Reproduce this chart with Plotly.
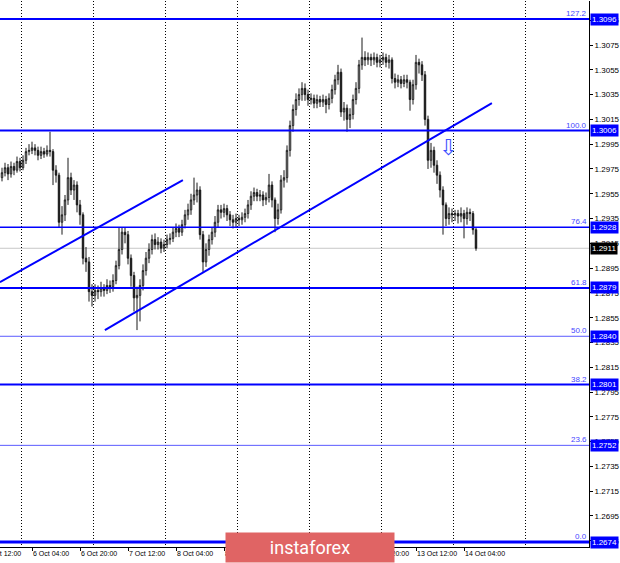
import plotly.graph_objects as go

# ---------------- data ----------------
# hourly bars; index 0 = 6 Oct 04:00 (weekend gap removed, like the terminal)
bar_index = list(range(-10, 149))

closes = [
    1.2972, 1.2976, 1.2971, 1.2977, 1.2974, 1.2981, 1.2976, 1.2982, 1.2989, 1.2990,
    1.2992, 1.2990, 1.2986, 1.2989, 1.2987, 1.2990, 1.2989, 1.2974, 1.2970, 1.2932,
    1.2938, 1.2950, 1.2968, 1.2958, 1.2962, 1.2946, 1.2938, 1.2903, 1.2900, 1.2876,
    1.2873, 1.2877, 1.2876, 1.2879, 1.2877, 1.2881, 1.2880, 1.2885, 1.2897, 1.2910,
    1.2924, 1.2922, 1.2903, 1.2889, 1.2871, 1.2873, 1.2881, 1.2893, 1.2903, 1.2910,
    1.2918, 1.2914, 1.2916, 1.2911, 1.2914, 1.2918, 1.2919, 1.2924, 1.2927, 1.2924,
    1.2930, 1.2938, 1.2942, 1.2950, 1.2954, 1.2958, 1.2922, 1.2900, 1.2910, 1.2918,
    1.2924, 1.2932, 1.2942, 1.2940, 1.2943, 1.2938, 1.2934, 1.2932, 1.2935, 1.2934,
    1.2936, 1.2939, 1.2946, 1.2953, 1.2956, 1.2953, 1.2954, 1.2950, 1.2952, 1.2962,
    1.2950, 1.2935, 1.2942, 1.2966, 1.2968, 1.2990, 1.3010, 1.3023, 1.3031, 1.3035,
    1.3040, 1.3035, 1.3031, 1.3032, 1.3028, 1.3031, 1.3029, 1.3031, 1.3027, 1.3032,
    1.3039, 1.3047, 1.3053, 1.3021, 1.3024, 1.3015, 1.3019, 1.3031, 1.3040, 1.3059,
    1.3065, 1.3063, 1.3065, 1.3063, 1.3065, 1.3061, 1.3063, 1.3065, 1.3061, 1.3063,
    1.3048, 1.3045, 1.3047, 1.3044, 1.3047, 1.3045, 1.3031, 1.3043, 1.3061, 1.3059,
    1.3051, 1.3015, 1.2982, 1.2990, 1.2978, 1.2970, 1.2958, 1.2946, 1.2935, 1.2939,
    1.2938, 1.2939, 1.2937, 1.2939, 1.2935, 1.2940, 1.2939, 1.2926, 1.2911,
]

highs = [
    1.2976, 1.2980, 1.2979, 1.2981, 1.2980, 1.2985, 1.2984, 1.2986, 1.2992, 1.2995,
    1.2997, 1.2995, 1.2993, 1.2993, 1.2992, 1.2994, 1.3005, 1.2991, 1.2978, 1.2972,
    1.2945, 1.2954, 1.2984, 1.2972, 1.2966, 1.2965, 1.2950, 1.2940, 1.2912, 1.2904,
    1.2882, 1.2882, 1.2881, 1.2884, 1.2882, 1.2886, 1.2885, 1.2890, 1.2901, 1.2928,
    1.2928, 1.2928, 1.2925, 1.2906, 1.2892, 1.2880, 1.2886, 1.2898, 1.2908, 1.2915,
    1.2922, 1.2923, 1.2920, 1.2919, 1.2918, 1.2922, 1.2923, 1.2928, 1.2931, 1.2930,
    1.2934, 1.2942, 1.2947, 1.2955, 1.2968, 1.2964, 1.2961, 1.2925, 1.2915, 1.2922,
    1.2928, 1.2937, 1.2946, 1.2946, 1.2947, 1.2946, 1.2941, 1.2938, 1.2939, 1.2938,
    1.2940, 1.2943, 1.2950, 1.2957, 1.2960, 1.2959, 1.2958, 1.2957, 1.2956, 1.2971,
    1.2965, 1.2952, 1.2947, 1.2970, 1.2974, 1.2994, 1.3014, 1.3027, 1.3036, 1.3040,
    1.3045, 1.3044, 1.3039, 1.3036, 1.3035, 1.3035, 1.3034, 1.3035, 1.3034, 1.3036,
    1.3043, 1.3051, 1.3059, 1.3056, 1.3029, 1.3027, 1.3024, 1.3035, 1.3045, 1.3063,
    1.3081, 1.3070, 1.3069, 1.3068, 1.3069, 1.3068, 1.3067, 1.3069, 1.3068, 1.3067,
    1.3065, 1.3052, 1.3051, 1.3050, 1.3051, 1.3051, 1.3047, 1.3047, 1.3067, 1.3064,
    1.3062, 1.3054, 1.3018, 1.2996, 1.2993, 1.2982, 1.2973, 1.2961, 1.2948, 1.2944,
    1.2943, 1.2942, 1.2942, 1.2944, 1.2942, 1.2944, 1.2943, 1.2941, 1.2928,
]

lows = [
    1.2965, 1.2969, 1.2966, 1.2968, 1.2970, 1.2972, 1.2973, 1.2974, 1.2979, 1.2986,
    1.2987, 1.2986, 1.2982, 1.2983, 1.2984, 1.2985, 1.2985, 1.2962, 1.2964, 1.2928,
    1.2922, 1.2933, 1.2946, 1.2954, 1.2950, 1.2940, 1.2930, 1.2898, 1.2892, 1.2868,
    1.2864, 1.2868, 1.2870, 1.2872, 1.2872, 1.2874, 1.2875, 1.2876, 1.2882, 1.2894,
    1.2906, 1.2915, 1.2898, 1.2880, 1.2860, 1.2845, 1.2852, 1.2877, 1.2889, 1.2899,
    1.2906, 1.2910, 1.2910, 1.2907, 1.2908, 1.2911, 1.2914, 1.2916, 1.2920, 1.2920,
    1.2921, 1.2927, 1.2934, 1.2938, 1.2946, 1.2948, 1.2918, 1.2892, 1.2896, 1.2905,
    1.2914, 1.2920, 1.2928, 1.2935, 1.2936, 1.2933, 1.2929, 1.2927, 1.2928, 1.2929,
    1.2930, 1.2932, 1.2935, 1.2942, 1.2949, 1.2949, 1.2949, 1.2945, 1.2946, 1.2948,
    1.2944, 1.2924, 1.2930, 1.2939, 1.2960, 1.2964, 1.2985, 1.3005, 1.3018, 1.3026,
    1.3030, 1.3030, 1.3026, 1.3027, 1.3024, 1.3024, 1.3025, 1.3025, 1.3020, 1.3023,
    1.3028, 1.3035, 1.3043, 1.3017, 1.3014, 1.3005, 1.3008, 1.3015, 1.3027, 1.3036,
    1.3055, 1.3058, 1.3059, 1.3058, 1.3059, 1.3057, 1.3057, 1.3059, 1.3057, 1.3056,
    1.3044, 1.3040, 1.3041, 1.3040, 1.3041, 1.3040, 1.3022, 1.3027, 1.3039, 1.3052,
    1.3046, 1.3010, 1.2975, 1.2976, 1.2972, 1.2963, 1.2952, 1.2922, 1.2929, 1.2930,
    1.2932, 1.2933, 1.2931, 1.2932, 1.2919, 1.2930, 1.2933, 1.2922, 1.2909,
]

first_open = 1.2968
opens = [first_open] + closes[:-1]

# time-axis labels
xtick_pos = [-16, 0, 16, 32, 48, 64, 80, 96, 112, 128, 144]
xtick_text = ["5 Oct 12:00", "6 Oct 04:00", "6 Oct 20:00", "7 Oct 12:00",
              "8 Oct 04:00", "8 Oct 20:00", "9 Oct 12:00", "12 Oct 04:00",
              "12 Oct 20:00", "13 Oct 12:00", "14 Oct 04:00"]

# Fibonacci levels
fib_prices = [1.3096, 1.3006, 1.2928, 1.2879, 1.2840, 1.2801, 1.2752, 1.2674]
fib_names = ["127.2", "100.0", "76.4", "61.8", "50.0", "38.2", "23.6", "0.0"]
fib_widths = [2, 2, 1.5, 2, 1, 2, 1, 3]

last_price = 1.2911

# trend lines (bar index, price)
trend_x0 = [-10.7, 24.3]
trend_y0 = [1.28837, 1.28450]
trend_x1 = [50.3, 153.3]
trend_y1 = [1.29660, 1.30282]

arrow_x = 138.5
arrow_y = 1.29927

BLUE = "#0000ff"
FONT = "Liberation Sans"
X_RANGE = [-10.667, 185.667]
PX_PER_BAR = 589 / (X_RANGE[1] - X_RANGE[0])

fig = go.Figure()

fig.add_trace(go.Candlestick(
    x=bar_index, open=opens, high=highs, low=lows, close=closes,
    increasing=dict(line=dict(color="#1a1a1a", width=1), fillcolor="#ffffff"),
    decreasing=dict(line=dict(color="#1a1a1a", width=1), fillcolor="#000000"),
    whiskerwidth=0, showlegend=False, hoverinfo="skip",
))

shapes = []
# current price line
shapes.append(dict(type="line", xref="paper", x0=0, x1=1, yref="y",
                   y0=last_price, y1=last_price,
                   line=dict(color="#c8c8c8", width=1), layer="below"))
for p, w in zip(fib_prices, fib_widths):
    col = BLUE if w >= 1.5 else "#5a5aff"
    shapes.append(dict(type="line", xref="paper", x0=0, x1=1, yref="y",
                       y0=p, y1=p, line=dict(color=col, width=w), layer="above"))
for x0, y0, x1, y1 in zip(trend_x0, trend_y0, trend_x1, trend_y1):
    shapes.append(dict(type="line", xref="x", yref="y", x0=x0, y0=y0, x1=x1, y1=y1,
                       line=dict(color=BLUE, width=2), layer="above"))

annotations = []
for p, n in zip(fib_prices, fib_names):
    annotations.append(dict(xref="paper", x=1, xanchor="right", yref="y", y=p,
                            yanchor="bottom", text=n, showarrow=False,
                            font=dict(family=FONT, size=8, color="#4646ff"),
                            borderpad=0, yshift=0, xshift=-1))
    annotations.append(dict(xref="paper", x=1, xanchor="left", yref="y", y=p,
                            yanchor="middle", text=f"{p:.4f}", showarrow=False,
                            font=dict(family=FONT, size=8, color="#ffffff"),
                            bgcolor=BLUE, borderpad=1, xshift=1))
annotations.append(dict(xref="paper", x=1, xanchor="left", yref="y", y=last_price,
                        yanchor="middle", text=f"{last_price:.4f}", showarrow=False,
                        font=dict(family=FONT, size=8, color="#ffffff"),
                        bgcolor="#000000", borderpad=1, xshift=1))
for xp, t in zip(xtick_pos, xtick_text):
    # a label whose tick lies left of the visible range is anchored at the
    # range start and pushed left so that it is cut by the edge, as in the terminal
    xa = max(xp, X_RANGE[0] + 0.01)
    annotations.append(dict(xref="x", x=xa, xanchor="left", yref="paper", y=0,
                            yanchor="top", text=t, showarrow=False,
                            font=dict(family=FONT, size=7, color="#000000"),
                            borderpad=0, yshift=-2,
                            xshift=(xp - xa) * PX_PER_BAR))
annotations.append(dict(xref="x", x=arrow_x, yref="y", y=arrow_y, text="⇩",
                        showarrow=False, font=dict(family="DejaVu Sans", size=22,
                                                   color="#3c50ff")))
annotations.append(dict(xref="paper", x=310 / 589, xanchor="center", yref="paper",
                        y=0, yanchor="middle", yshift=-0.5, text="instaforex",
                        showarrow=False, width=166, height=27, bgcolor="#e06464",
                        font=dict(family="Roboto", size=18, color="#ffffff")))

fig.update_layout(
    width=620, height=563, template="none",
    margin=dict(l=0, r=31, t=1, b=16, pad=0),
    paper_bgcolor="#ffffff", plot_bgcolor="#ffffff",
    shapes=shapes, annotations=annotations, showlegend=False,
    xaxis=dict(range=X_RANGE, rangeslider=dict(visible=False),
               tickmode="array", tickvals=xtick_pos, ticktext=[""] * len(xtick_pos),
               ticks="outside", ticklen=3, tickcolor="#000000", showgrid=False,
               showline=True, linecolor="#000000", linewidth=1, zeroline=False,
               automargin=False,
               minor=dict(tick0=-3.667, dtick=24, showgrid=True, gridcolor="#000000",
                          griddash="1px,2px", gridwidth=1, ticks="")),
    yaxis=dict(range=[1.266998, 1.311052], side="right", tick0=1.2695, dtick=0.002,
               tickformat=".4f", ticks="outside", ticklen=3, tickcolor="#000000",
               showgrid=False, showline=True, linecolor="#000000", linewidth=1,
               zeroline=False, automargin=False,
               tickfont=dict(family=FONT, size=8, color="#000000")),
)

fig.write_html("out.html", config={"displayModeBar": False},
               post_script="document.body.style.margin='0';")
